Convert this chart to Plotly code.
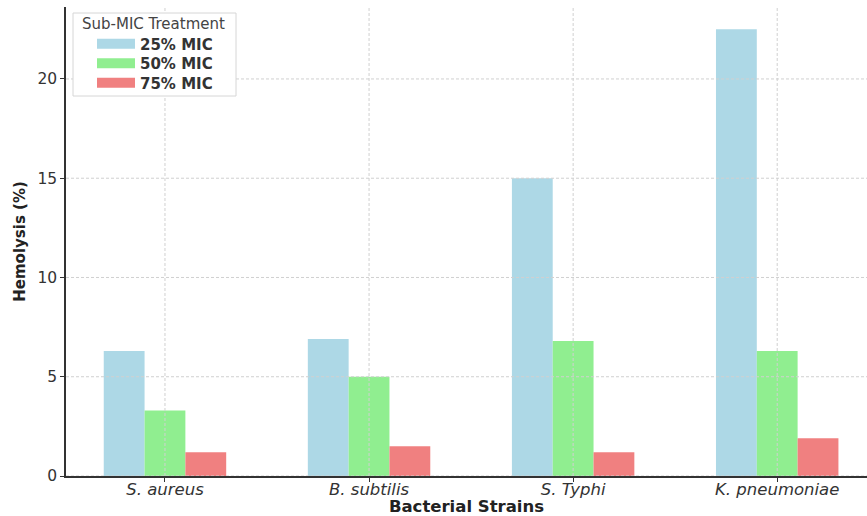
import plotly.graph_objects as go

strains = ["S. aureus", "B. subtilis", "S. Typhi", "K. pneumoniae"]
series_names = ["25% MIC", "50% MIC", "75% MIC"]
mic25 = [6.3, 6.9, 15.0, 22.5]
mic50 = [3.3, 5.0, 6.8, 6.3]
mic75 = [1.2, 1.5, 1.2, 1.9]
colors = ["#ADD8E6", "#90EE90", "#F08080"]
y_ticks = [0, 5, 10, 15, 20]

W, H = 867, 516
ML, MR, MT, MB = 66, 0, 7, 40
PW, PH = W - ML - MR, H - MT - MB


def px(x):
    return (x - ML) / PW


def py(y):
    return 1 - (y - MT) / PH


FONT = "DejaVu Sans"
legend_ids = ["legend", "legend2", "legend3"]
legend_rows = [44, 63.5, 83]

fig = go.Figure()
for name, vals, col, lid in zip(series_names, [mic25, mic50, mic75], colors, legend_ids):
    fig.add_trace(go.Bar(x=list(range(len(strains))), y=vals, name=name,
                         marker=dict(color=col, line=dict(width=0)),
                         showlegend=False))
    fig.add_trace(go.Scatter(x=[None], y=[None], mode="lines", name=name,
                             line=dict(color=col, width=11), showlegend=True,
                             legend=lid))

grid_style = dict(color="#d0d0d0", width=1, dash="3px,2px")
for i in range(len(strains)):
    fig.add_shape(type="line", xref="x", yref="paper", x0=i, x1=i, y0=0, y1=1,
                  line=grid_style, layer="above")
for t in y_ticks:
    fig.add_shape(type="line", xref="paper", yref="y", x0=0, x1=1, y0=t, y1=t,
                  line=grid_style, layer="above")

# legend frame
fig.add_shape(type="rect", xref="paper", yref="paper",
              x0=px(73), x1=px(236), y0=py(96), y1=py(13),
              fillcolor="white", line=dict(color="#d6d6d6", width=1), layer="above")
fig.add_annotation(text="Sub-MIC Treatment", xref="paper", yref="paper",
                   x=px(80), y=py(24), xanchor="left", yanchor="middle",
                   showarrow=False, font=dict(family=FONT, size=15, color="#444444"))

legend_common = dict(
    xanchor="left", yanchor="middle",
    bgcolor="rgba(0,0,0,0)", borderwidth=0,
    font=dict(family=FONT, size=15, color="#333333", weight="bold"),
    itemwidth=38,
)
layout_legends = {}
for lid, row in zip(legend_ids, legend_rows):
    layout_legends[lid] = dict(x=px(92), y=py(row), **legend_common)

fig.update_layout(
    width=W, height=H,
    margin=dict(l=ML, r=MR, t=MT, b=MB),
    paper_bgcolor="white", plot_bgcolor="white",
    barmode="group", bargap=0.4, bargroupgap=0,
    font=dict(family=FONT, color="#333333"),
    xaxis=dict(
        range=[-0.485, 3.44], automargin=False,
        tickmode="array", tickvals=list(range(len(strains))),
        ticktext=[f"<i>{s}</i>" for s in strains],
        tickfont=dict(family=FONT, size=16.5, color="#333333"),
        showgrid=False, zeroline=False,
        showline=True, linecolor="#333333", linewidth=1.5,
        ticks="outside", ticklen=4, tickcolor="#333333", tickwidth=1,
        ticklabelstandoff=-7,
        title=dict(text="<b>Bacterial Strains</b>", font=dict(family=FONT, size=16.5, color="#222222"), standoff=5),
    ),
    yaxis=dict(
        range=[0, 23.625], automargin=False,
        tickmode="array", tickvals=y_ticks,
        tickfont=dict(family=FONT, size=15.5, color="#333333"),
        showgrid=False, zeroline=False,
        showline=True, linecolor="#333333", linewidth=1.5,
        ticks="outside", ticklen=4, tickcolor="#333333", tickwidth=1,
        title=dict(text="<b>Hemolysis (%)</b>", font=dict(family=FONT, size=15, color="#222222"), standoff=8),
    ),
    **layout_legends,
)

fig.write_html("out.html", config={"displayModeBar": False},
               post_script="document.body.style.margin='0';")
